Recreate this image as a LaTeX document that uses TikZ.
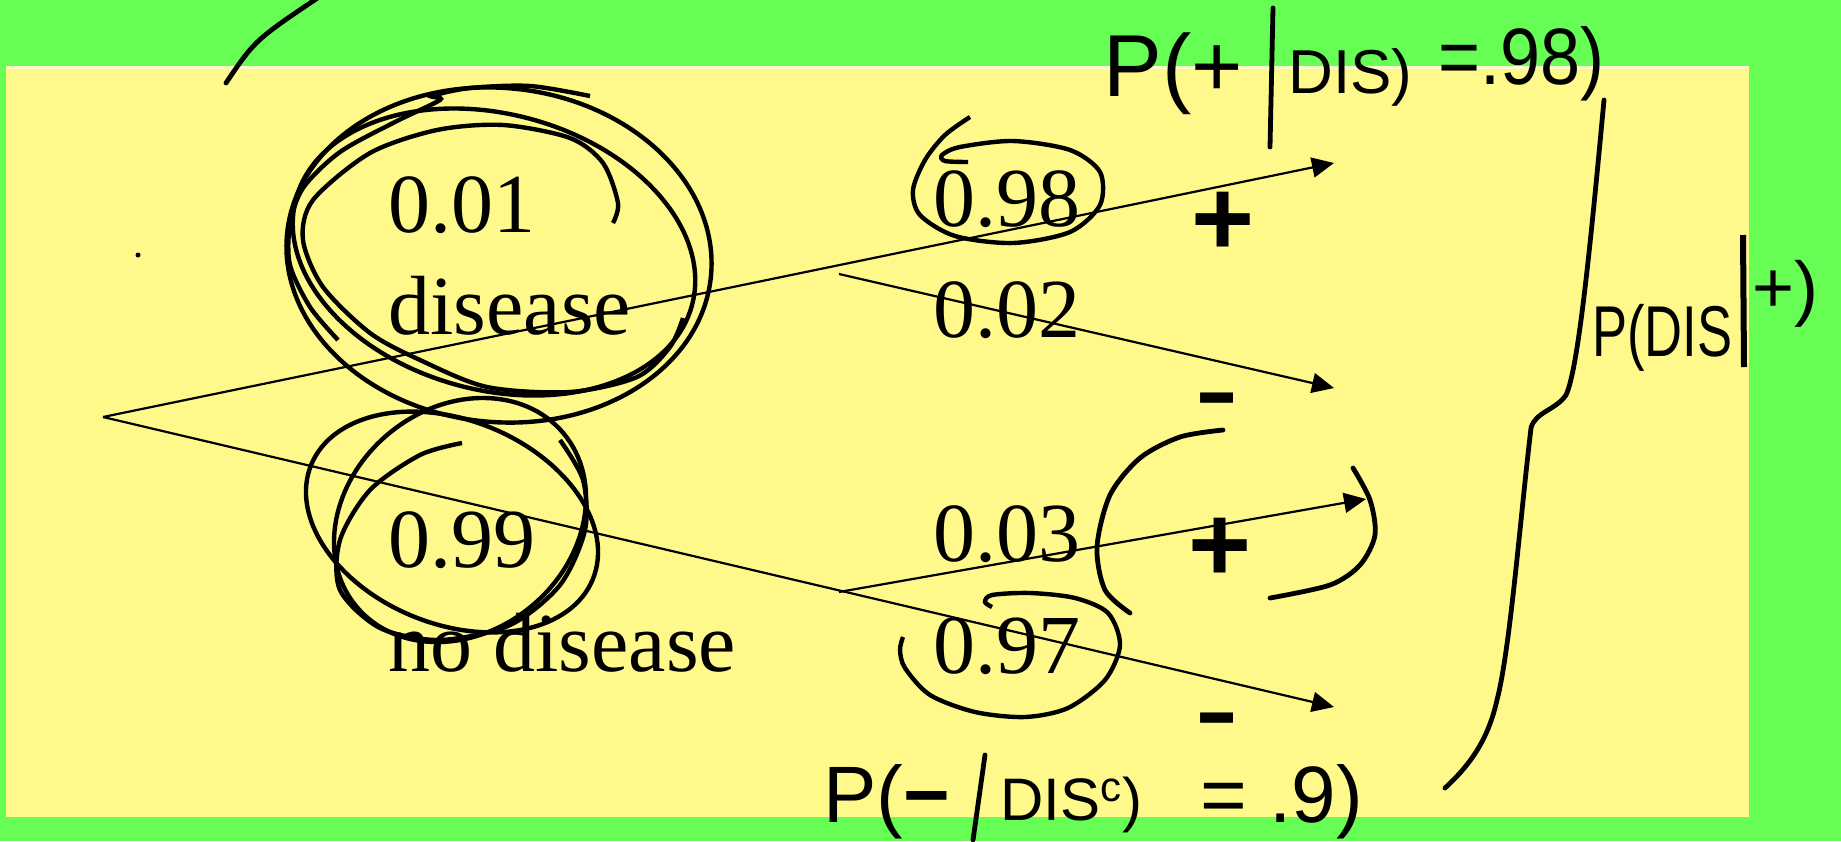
\documentclass[tikz,border=0pt]{standalone}
\usepackage{fontspec}
\usepackage{graphicx}
\setmainfont{Liberation Serif}
\newfontfamily\handfont{Liberation Sans}
\newfontfamily\signfont{Liberation Sans}
\usetikzlibrary{arrows.meta}
\definecolor{bggreen}{RGB}{102,253,85}
\definecolor{slideyellow}{RGB}{255,249,140}
\tikzset{
  treeline/.style={line width=1.1pt, -{Triangle[length=11pt,width=10pt]}},
  loopstroke/.style={line width=2.2pt},
  ink/.style={line width=2.4pt, line cap=round, line join=round},
  prob/.style={font=\fontsize{42}{48}\selectfont, anchor=base west, inner sep=0pt},
  sign/.style={font=\signfont\bfseries\fontsize{54}{60}\selectfont, inner sep=0pt},
  hand/.style={font=\handfont\fontsize{40}{46}\selectfont, anchor=base west, inner sep=0pt},
}
\begin{document}
\begin{tikzpicture}[x=0.5pt,y=-0.5pt]
\useasboundingbox (0,0) rectangle (1841,841);
\fill[bggreen] (0,0) rectangle (1841,841);
\fill[slideyellow] (6,66) rectangle (1749,817);
\draw[white!55!slideyellow, line width=1.5pt] (7,67) -- (1748,67);

% stray marks
\fill (138,255) circle (2.5);
\draw[ink] (226,83) .. controls (255,40) .. (322,-5);

% probability texts
\node[prob] (p01) at (388,232) {0.01};
\node[prob] (dis) at (388,334) {disease};
\node[prob] (p99) at (388,567) {0.99};
\node[prob] (nodis) at (388,671) {no disease};
\node[prob] (p98) at (933,226) {0.98};
\node[prob] (p02) at (933,337) {0.02};
\node[prob] (p03) at (933,561) {0.03};
\node[prob] (p97) at (933,673) {0.97};

% signs
\node[sign] (plusA) at (1223,224) {+};
\node[sign, anchor=base] (minusA) at (1217,420) {\scalebox{1.2}[0.8]{-}};
\node[sign] (plusB) at (1220,550) {+};
\node[sign, anchor=base] (minusB) at (1217,740) {\scalebox{1.2}[0.8]{-}};

% tree
\coordinate (root) at (103,417);
\coordinate (brA) at (839,274);
\coordinate (brB) at (839,592);
\coordinate (tipA) at (1334,163);
\coordinate (tipB) at (1334,388);
\coordinate (tipC) at (1366,499);
\coordinate (tipD) at (1334,707);
\draw[treeline] (root) -- (tipA);
\draw[treeline] (brA) -- (tipB);
\draw[treeline] (root) -- (tipD);
\draw[treeline] (brB) -- (tipC);

% loops around 0.01 disease
\draw[loopstroke, rotate around={-6:(499,255)}] (499,255) ellipse [x radius=213, y radius=167];
\draw[loopstroke, rotate around={-15:(494,252)}] (494,252) ellipse [x radius=205, y radius=138];
\draw[loopstroke] plot[smooth] coordinates {(613,223) (618,203) (603,163) (570,138) (503,125) (437,130) (370,153) (313,200) (303,240) (323,287) (370,333) (420,360) (487,387) (570,392) (637,377) (670,347) (683,318)};
\draw[loopstroke] plot[smooth] coordinates {(338,340) (310,307) (290,265) (290,225) (303,188) (340,152) (395,122) (440,100) (432,96) (470,88) (530,86) (590,96)};

% loops around 0.99
\draw[loopstroke, rotate around={-22:(452,522)}] (452,522) ellipse [x radius=152, y radius=102];
\draw[loopstroke, rotate around={40:(460,520)}] (460,520) ellipse [x radius=135, y radius=112];
\draw[loopstroke] plot[smooth] coordinates {(462,443) (420,455) (370,490) (340,540) (340,590) (380,628) (440,640) (510,625) (560,585) (585,530) (583,480) (560,440)};

% loop around 0.98
\draw[loopstroke] plot[smooth] coordinates {(968,162) (945,161) (942,155) (960,147) (1013,141) (1070,150) (1100,172) (1100,205) (1070,232) (1013,243) (955,236) (920,215) (913,190) (925,160) (945,135) (970,117)};
% loop around 0.97
\draw[loopstroke] plot[smooth] coordinates {(992,607) (985,602) (992,595) (1030,593) (1075,598) (1108,613) (1120,645) (1105,680) (1068,708) (1025,717) (975,712) (930,695) (905,668) (900,650) (903,637)};
% brackets around lower +
\draw[ink] plot[smooth] coordinates {(1223,430) (1180,437) (1140,458) (1110,495) (1097,547) (1105,590) (1130,613)};
\draw[ink] plot[smooth] coordinates {(1353,468) (1370,500) (1375,535) (1360,565) (1330,585) (1270,598)};

% big brace
\draw[ink] (1604,100) .. controls (1590,250) and (1578,370) .. (1566,395)
  .. controls (1556,410) and (1535,412) .. (1531,428)
  .. controls (1520,520) and (1510,650) .. (1497,700)
  .. controls (1488,740) and (1470,765) .. (1445,788);

% handwritten: top
\node[hand, font=\handfont\fontsize{44}{50}\selectfont] (ta) at (1103,96) {P(+};
\coordinate (barAt) at (1273,8);
\coordinate (barAb) at (1270,147);
\draw[ink] (barAt) -- (barAb);
\node[hand, font=\handfont\fontsize{31}{36}\selectfont] (tb) at (1288,93) {DIS)};
\node[hand] (tc) at (1438,84) {\scalebox{0.9}[1]{=.98)}};

% handwritten: right
\node[hand, font=\handfont\fontsize{36}{42}\selectfont] (ra) at (1592,356) {\scalebox{0.73}[1]{P(DIS}};
\coordinate (barBt) at (1743,235);
\coordinate (barBb) at (1744,367);
\draw[line width=3pt] (barBt) -- (barBb);
\node[hand, font=\handfont\fontsize{36}{42}\selectfont] (rb) at (1752,312) {+)};

% handwritten: bottom
\node[hand] (ba) at (823,822) {P({\bfseries −}};
\coordinate (barCt) at (985,755);
\coordinate (barCb) at (973,840);
\draw[ink] (barCt) -- (barCb);
\node[hand, font=\handfont\fontsize{30}{36}\selectfont] (bb) at (1000,820) {DIS\textsuperscript{c})};
\node[hand] (bc) at (1200,822) {= .9)};
\end{tikzpicture}
\end{document}
